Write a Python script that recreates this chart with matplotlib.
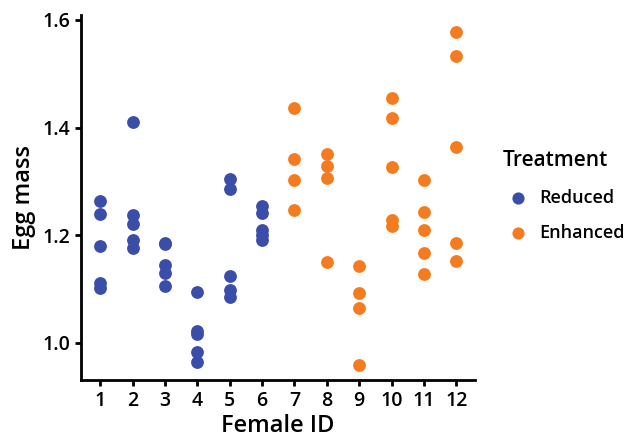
import matplotlib
matplotlib.use("Agg")
import matplotlib.pyplot as plt

plt.rcParams['font.family'] = ['Open Sans', 'DejaVu Sans']
plt.rcParams['font.weight'] = 'semibold'
plt.rcParams['axes.labelweight'] = 'semibold'

# egg masses per female
reduced_ids = [1, 2, 3, 4, 5, 6]
reduced_mass = [
    [1.263, 1.240, 1.180, 1.112, 1.102],
    [1.411, 1.237, 1.220, 1.192, 1.176],
    [1.186, 1.183, 1.144, 1.130, 1.105],
    [1.094, 1.023, 1.017, 0.983, 0.964],
    [1.305, 1.286, 1.125, 1.099, 1.086],
    [1.255, 1.241, 1.210, 1.200, 1.192],
]
enhanced_ids = [7, 8, 9, 10, 11, 12]
enhanced_mass = [
    [1.436, 1.342, 1.303, 1.246],
    [1.350, 1.328, 1.306, 1.151],
    [1.143, 1.092, 1.065, 0.960],
    [1.455, 1.417, 1.327, 1.228, 1.217],
    [1.303, 1.243, 1.210, 1.168, 1.128],
    [1.577, 1.532, 1.363, 1.185, 1.153],
]
yticks = [1.0, 1.2, 1.4, 1.6]

blue = '#3A4DA8'
orange = '#F47B20'

fig = plt.figure(figsize=(6.33, 4.40), dpi=100)
ax = fig.add_axes([0.128, 0.136, 0.622, 0.83])

def flat(ids, vals):
    xs, ys = [], []
    for i, v in zip(ids, vals):
        xs += [i] * len(v)
        ys += v
    return xs, ys

x1, y1 = flat(reduced_ids, reduced_mass)
x2, y2 = flat(enhanced_ids, enhanced_mass)
ax.scatter(x1, y1, s=85, color=blue, linewidths=0, label='Reduced')
ax.scatter(x2, y2, s=85, color=orange, linewidths=0, label='Enhanced')

ax.set_xlim(0.41, 12.57)
ax.set_ylim(0.931, 1.609)
ax.set_xticks(reduced_ids + enhanced_ids)
ax.set_yticks(yticks)
ax.set_yticklabels(['%.1f' % t for t in yticks])
ax.spines['top'].set_visible(False)
ax.spines['right'].set_visible(False)
for s in ['left', 'bottom']:
    ax.spines[s].set_linewidth(2)
ax.tick_params(width=2, length=4, labelsize=14, pad=4)
ax.set_xlabel('Female ID', fontsize=17, labelpad=2)
ax.set_ylabel('Egg mass', fontsize=17, labelpad=4)

leg = ax.legend(title='Treatment', loc='upper left', bbox_to_anchor=(0.78, 0.68),
                bbox_transform=fig.transFigure, frameon=False, fontsize=13,
                title_fontsize=15, handlelength=1.7, handletextpad=0.3,
                markerscale=0.95, labelspacing=0.98, borderpad=0)
leg._legend_box.align = 'left'

fig.savefig('out.png', dpi=100)
